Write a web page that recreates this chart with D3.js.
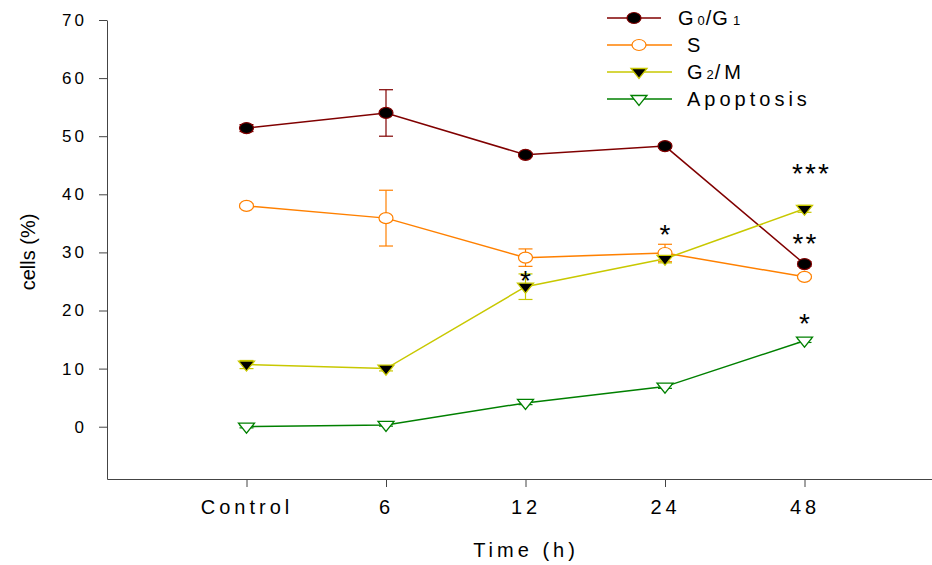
<!DOCTYPE html>
<html><head><meta charset="utf-8">
<script src="https://cdn.jsdelivr.net/npm/d3@7/dist/d3.min.js"></script>
<style>body{margin:0;background:#fff}svg{display:block}text{font-family:"Liberation Sans",Arial,sans-serif;fill:#000}</style>
</head><body><svg id="c" width="932" height="565"></svg>
<script>
const categories = ["Control", "6", "12", "24", "48"];
const yTicks = [0, 10, 20, 30, 40, 50, 60, 70];
const g0g1 = [51.4, 54.0, 46.8, 48.3, 28.0];
const g0g1Err = [0.6, 4.0, 0.3, 0.3, 0.4];
const sPhase = [38.0, 35.9, 29.1, 29.9, 25.8];
const sErr = [0.3, 4.8, 1.5, 1.5, 0.3];
const g2m = [10.7, 10.0, 24.1, 28.9, 37.5];
const g2mErr = [0.7, 0.4, 2.2, 0.7, 0.6];
const apoptosis = [0.0, 0.3, 4.1, 6.9, 14.8];
const apoErr = [0.2, 0.2, 0.3, 0.3, 0.3];
const stars = [
  {cat: 2, val: 26.1, text: "*"},
  {cat: 3, val: 34.1, text: "*"},
  {cat: 4, val: 44.5, text: "***"},
  {cat: 4, val: 32.5, text: "**"},
  {cat: 4, val: 18.7, text: "*"}
];

const series = [
  {name: "G0/G1", vals: g0g1, err: g0g1Err, color: "#800000", marker: "circle", fill: "#000"},
  {name: "S", vals: sPhase, err: sErr, color: "#FF8000", marker: "circle", fill: "#fff"},
  {name: "G2/M", vals: g2m, err: g2mErr, color: "#C8C800", marker: "tri", fill: "#000"},
  {name: "Apoptosis", vals: apoptosis, err: apoErr, color: "#008000", marker: "tri", fill: "#fff"}
];

const svg = d3.select("#c");
const x = d3.scaleLinear().domain([0, 6]).range([107, 944]);
const y = d3.scaleLinear().domain([-9, 70]).range([479, 20]);

// axes
const yAxis = svg.append("g").attr("transform", "translate(107,0)")
  .call(d3.axisLeft(y).tickValues(yTicks).tickSize(8).tickPadding(12).tickSizeOuter(0));
yAxis.select(".domain").attr("stroke", "#444");
yAxis.selectAll(".tick line").attr("stroke", "#444");
yAxis.selectAll(".tick text").attr("font-size", 17).style("letter-spacing", "3px")
  .attr("font-family", "Liberation Sans, Arial, sans-serif").attr("fill", "#000");

const xAxis = svg.append("g").attr("transform", "translate(0,479)")
  .call(d3.axisBottom(x).tickValues([1, 2, 3, 4, 5]).tickFormat(d => categories[d - 1])
    .tickSize(8).tickPadding(13).tickSizeOuter(0));
xAxis.select(".domain").attr("stroke", "#444");
xAxis.selectAll(".tick line").attr("stroke", "#444");
xAxis.selectAll(".tick text").attr("font-size", 20).style("letter-spacing", "4px")
  .attr("font-family", "Liberation Sans, Arial, sans-serif").attr("fill", "#000");

svg.append("text").attr("x", 526).attr("y", 557).attr("text-anchor", "middle")
  .attr("font-size", 20).style("letter-spacing", "4px").text("Time (h)");
svg.append("text").attr("transform", "translate(35,252) rotate(-90)").attr("text-anchor", "middle")
  .attr("font-size", 20).text("cells (%)");

function drawMarker(g, type, cx, cy, color, fill) {
  if (type === "circle") {
    g.append("ellipse").attr("cx", cx).attr("cy", cy).attr("rx", 7).attr("ry", 5.5)
      .attr("fill", fill).attr("stroke", color).attr("stroke-width", 1.2);
  } else {
    const w = 8, h = 10;
    g.append("path").attr("d", `M${cx - w},${cy - h * 0.35}L${cx + w},${cy - h * 0.35}L${cx},${cy + h * 0.65}Z`)
      .attr("fill", fill).attr("stroke", color).attr("stroke-width", 1.3);
  }
}

const line = d3.line().x((d, i) => x(i + 1)).y(d => y(d));
series.forEach(s => {
  const g = svg.append("g");
  s.vals.forEach((v, i) => {
    const cx = x(i + 1), t = y(v + s.err[i]), b = y(v - s.err[i]);
    g.append("line").attr("x1", cx).attr("x2", cx).attr("y1", t).attr("y2", b).attr("stroke", s.color).attr("stroke-width", 1.2);
    [t, b].forEach(yy => g.append("line").attr("x1", cx - 7).attr("x2", cx + 7).attr("y1", yy).attr("y2", yy).attr("stroke", s.color).attr("stroke-width", 1.2));
  });
  g.append("path").attr("d", line(s.vals)).attr("fill", "none").attr("stroke", s.color).attr("stroke-width", 1.5);
});
series.forEach(s => {
  const g = svg.append("g");
  s.vals.forEach((v, i) => drawMarker(g, s.marker, x(i + 1), y(v), s.color, s.fill));
});

// significance stars (value = vertical centre of the star glyphs)
stars.forEach(st => {
  const n = st.text.length;
  const step = 13;
  const cx = x(st.cat + 1) + (n === 3 ? 6 : 0);
  for (let k = 0; k < n; k++) {
    svg.append("text").attr("x", cx + (k - (n - 1) / 2) * step).attr("y", y(st.val) + 15)
      .attr("text-anchor", "middle").attr("font-size", 28).text("*");
  }
});

// legend
const legendY = [18, 45, 72, 99];
series.forEach((s, i) => {
  const ly = legendY[i];
  const g = svg.append("g");
  g.append("line").attr("x1", 607).attr("x2", i === 0 ? 661 : 672).attr("y1", ly).attr("y2", ly)
    .attr("stroke", s.color).attr("stroke-width", 1.5);
  drawMarker(g, s.marker, i === 0 ? 634 : 639, ly, s.color, s.fill);
  const t = g.append("text").attr("x", i === 0 ? 678 : 687).attr("y", ly + 7).attr("font-size", 20).style("letter-spacing", "4px");
  if (s.name === "G0/G1") {
    t.append("tspan").text("G");
    t.append("tspan").attr("font-size", 13).style("letter-spacing", "1px").text("0");
    t.append("tspan").style("letter-spacing", "1px").text("/G");
    t.append("tspan").attr("font-size", 13).attr("dx", 4).text("1");
  } else if (s.name === "G2/M") {
    t.append("tspan").text("G");
    t.append("tspan").attr("font-size", 13).style("letter-spacing", "1px").text("2");
    t.append("tspan").text("/M");
  } else {
    t.text(s.name);
  }
});
</script></body></html>
